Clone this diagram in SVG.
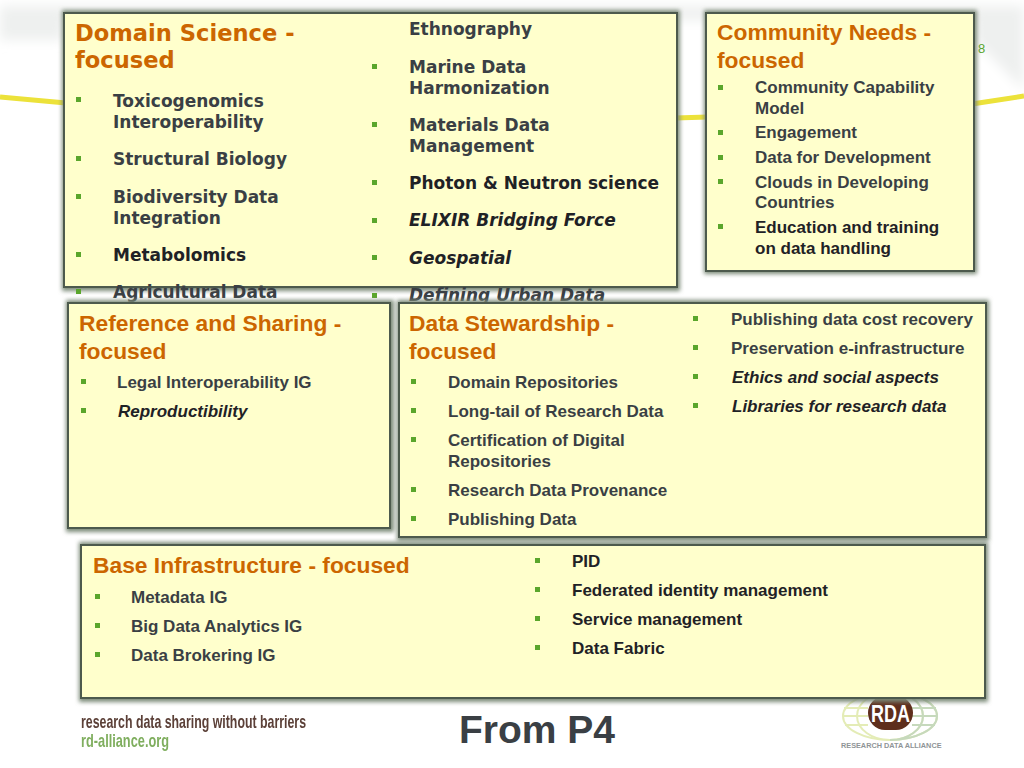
<svg xmlns="http://www.w3.org/2000/svg" width="1024" height="768" viewBox="0 0 1024 768">
<defs>
<filter id="blur" x="-10%" y="-10%" width="120%" height="120%"><feGaussianBlur stdDeviation="2"/></filter>
<filter id="soft" x="-20%" y="-100%" width="140%" height="300%"><feGaussianBlur stdDeviation="6"/></filter>
<filter id="tiny" x="-5%" y="-20%" width="110%" height="140%"><feGaussianBlur stdDeviation="0.35"/></filter>
</defs>
<style>
.box{fill:#ffffcc;stroke:#4d5a4d;stroke-width:2}
.shadow{fill:#7c8a78;filter:url(#blur)}
.v,.a{font-weight:700;fill:#3a3f44}
.v{font-family:"DejaVu Sans",Verdana,sans-serif;font-size:17px}
.a{font-family:"Liberation Sans",Arial,sans-serif;font-size:17px}
.vt,.at{font-weight:700;fill:#cc6600}
.vt{font-family:"DejaVu Sans",Verdana,sans-serif;font-size:22.6px}
.at{font-family:"Liberation Sans",Arial,sans-serif;font-size:22.8px}
.k{fill:#1f2226}
.i{font-style:italic}
.b{fill:#5aa62c}
</style>
<rect width="1024" height="768" fill="#ffffff"/>
<g id="background">
<path d="M0 6H1024V90L974 40V20H64V40H0Z" fill="#eef0ef" filter="url(#soft)"/>
<path d="M0 97L66 103M675 118L708 117M972 104L1024 96" stroke="#ece23a" stroke-width="5" fill="none"/>
<text x="978" y="53" font-family="Liberation Sans,Arial,sans-serif" font-size="13" fill="#5aa62c">8</text>
</g>
<g id="domain-science">
<rect class="shadow" x="62" y="10" width="618" height="281"/>
<rect class="box" x="64" y="13" width="613" height="274"/>
<text class="vt" x="75" y="41">Domain Science -</text>
<text class="vt" x="75" y="68">focused</text>
<g class="v">
<text x="113" y="106.500">Toxicogenomics</text>
<text x="113" y="127.500">Interoperability</text>
<text x="113" y="165">Structural Biology</text>
<text x="113" y="202.500">Biodiversity Data</text>
<text x="113" y="223.500">Integration</text>
<text x="113" y="260.500" class="k">Metabolomics</text>
<text x="113" y="298">Agricultural Data</text>
<text x="409" y="35">Ethnography</text>
<text x="409" y="72.500">Marine Data</text>
<text x="409" y="93.500">Harmonization</text>
<text x="409" y="130.500">Materials Data</text>
<text x="409" y="151.500">Management</text>
<text x="409" y="188.500" class="k">Photon &amp; Neutron science</text>
<text x="409" y="226" class="k i">ELIXIR Bridging Force</text>
<text x="409" y="263.500" class="k i">Geospatial</text>
<text x="409" y="301" class="i">Defining Urban Data</text>
</g>
<g class="b">
<rect x="76" y="97" width="5" height="5"/><rect x="76" y="156" width="5" height="5"/><rect x="76" y="194" width="5" height="5"/><rect x="76" y="252" width="5" height="5"/><rect x="76" y="289" width="5" height="5"/>
<rect x="372" y="64" width="5" height="5"/><rect x="372" y="122" width="5" height="5"/><rect x="372" y="180" width="5" height="5"/><rect x="372" y="218" width="5" height="5"/><rect x="372" y="255" width="5" height="5"/><rect x="372" y="293" width="5" height="5"/>
</g>
</g>
<g id="community-needs">
<rect class="shadow" x="704" y="10" width="273" height="264"/>
<rect class="box" x="706" y="13" width="268" height="258"/>
<text class="at" x="717" y="40">Community Needs -</text>
<text class="at" x="717" y="68">focused</text>
<g class="a">
<text x="755" y="93">Community Capability</text>
<text x="755" y="114">Model</text>
<text x="755" y="138">Engagement</text>
<text x="755" y="163">Data for Development</text>
<text x="755" y="188">Clouds in Developing</text>
<text x="755" y="208">Countries</text>
<text x="755" y="233" class="k">Education and training</text>
<text x="755" y="254" class="k">on data handling</text>
</g>
<g class="b"><rect x="718" y="85" width="5" height="5"/><rect x="718" y="130" width="5" height="5"/><rect x="718" y="155" width="5" height="5"/><rect x="718" y="179" width="5" height="5"/><rect x="718" y="224" width="5" height="5"/></g>
</g>
<g id="reference-sharing">
<rect class="shadow" x="66" y="300" width="328" height="232"/>
<rect class="box" x="68" y="303" width="322" height="225"/>
<text class="at" x="79" y="331">Reference and Sharing -</text>
<text class="at" x="79" y="359">focused</text>
<g class="a">
<text x="117" y="388">Legal Interoperability IG</text>
<text x="118" y="417" class="k i">Reproductibility</text>
</g>
<g class="b"><rect x="81" y="379" width="5" height="5"/><rect x="81" y="408" width="5" height="5"/></g>
</g>
<g id="data-stewardship">
<rect class="shadow" x="397" y="300" width="592" height="241"/>
<rect class="box" x="399" y="303" width="587" height="234"/>
<text class="at" x="409" y="331">Data Stewardship -</text>
<text class="at" x="409" y="359">focused</text>
<g class="a">
<text x="448" y="388">Domain Repositories</text>
<text x="448" y="417">Long-tail of Research Data</text>
<text x="448" y="446">Certification of Digital</text>
<text x="448" y="467">Repositories</text>
<text x="448" y="496">Research Data Provenance</text>
<text x="448" y="525">Publishing Data</text>
<text x="731" y="325">Publishing data cost recovery</text>
<text x="731" y="354">Preservation e-infrastructure</text>
<text x="732" y="383" class="k i">Ethics and social aspects</text>
<text x="732" y="412" class="k i">Libraries for research data</text>
</g>
<g class="b"><rect x="411" y="379" width="5" height="5"/><rect x="411" y="408" width="5" height="5"/><rect x="411" y="437" width="5" height="5"/><rect x="411" y="487" width="5" height="5"/><rect x="411" y="516" width="5" height="5"/><rect x="693" y="316" width="5" height="5"/><rect x="693" y="345" width="5" height="5"/><rect x="693" y="374" width="5" height="5"/><rect x="693" y="403" width="5" height="5"/></g>
</g>
<g id="rda-logo">
<g fill="none" stroke-width="2">
<g stroke="#e4ecb6"><ellipse cx="890" cy="716" rx="47" ry="24"/><ellipse cx="890" cy="716" rx="33" ry="24"/><path d="M844 708H868M843 716H868M845 725H868"/></g>
<g stroke="#c6d9bc"><path d="M890 692A47 24 0 0 1 890 740M890 692A33 24 0 0 1 890 740M912 708H936M912 716H937M912 725H935"/></g>
</g>
<rect x="868" y="696" width="45" height="34" rx="17" fill="#5e2e1c"/>
<text x="871" y="722" font-family="Liberation Sans,Arial,sans-serif" font-size="23" font-weight="700" fill="#ffffff" textLength="39" lengthAdjust="spacingAndGlyphs">RDA</text>
<text x="841" y="748" font-family="Liberation Sans,Arial,sans-serif" font-size="7.300" font-weight="700" fill="#8f9497">RESEARCH DATA ALLIANCE</text>
</g>
<g id="base-infrastructure">
<rect class="shadow" x="79" y="542" width="909" height="160"/>
<rect class="box" x="81" y="545" width="904" height="153"/>
<text class="at" x="93" y="573">Base Infrastructure - focused</text>
<g class="a">
<text x="131" y="603">Metadata IG</text>
<text x="131" y="632">Big Data Analytics IG</text>
<text x="131" y="661">Data Brokering IG</text>
<text x="572" y="567" class="k">PID</text>
<text x="572" y="596" class="k">Federated identity management</text>
<text x="572" y="625" class="k">Service management</text>
<text x="572" y="654" class="k">Data Fabric</text>
</g>
<g class="b"><rect x="95" y="594" width="5" height="5"/><rect x="95" y="623" width="5" height="5"/><rect x="95" y="652" width="5" height="5"/><rect x="535" y="558" width="5" height="5"/><rect x="535" y="587" width="5" height="5"/><rect x="535" y="616" width="5" height="5"/><rect x="535" y="645" width="5" height="5"/></g>
</g>
<g id="footer">
<text x="81" y="728" font-family="Liberation Sans,Arial,sans-serif" font-size="19" font-weight="700" fill="#5b4038" textLength="225" lengthAdjust="spacingAndGlyphs" filter="url(#tiny)">research data sharing without barriers</text>
<text x="81" y="747" font-family="Liberation Sans,Arial,sans-serif" font-size="19" font-weight="700" fill="#7fae5e" textLength="88" lengthAdjust="spacingAndGlyphs" filter="url(#tiny)">rd-alliance.org</text>
<text x="459" y="743" font-family="Liberation Sans,Arial,sans-serif" font-size="39" font-weight="700" fill="#3a3f44">From P4</text>
</g>
</svg>
